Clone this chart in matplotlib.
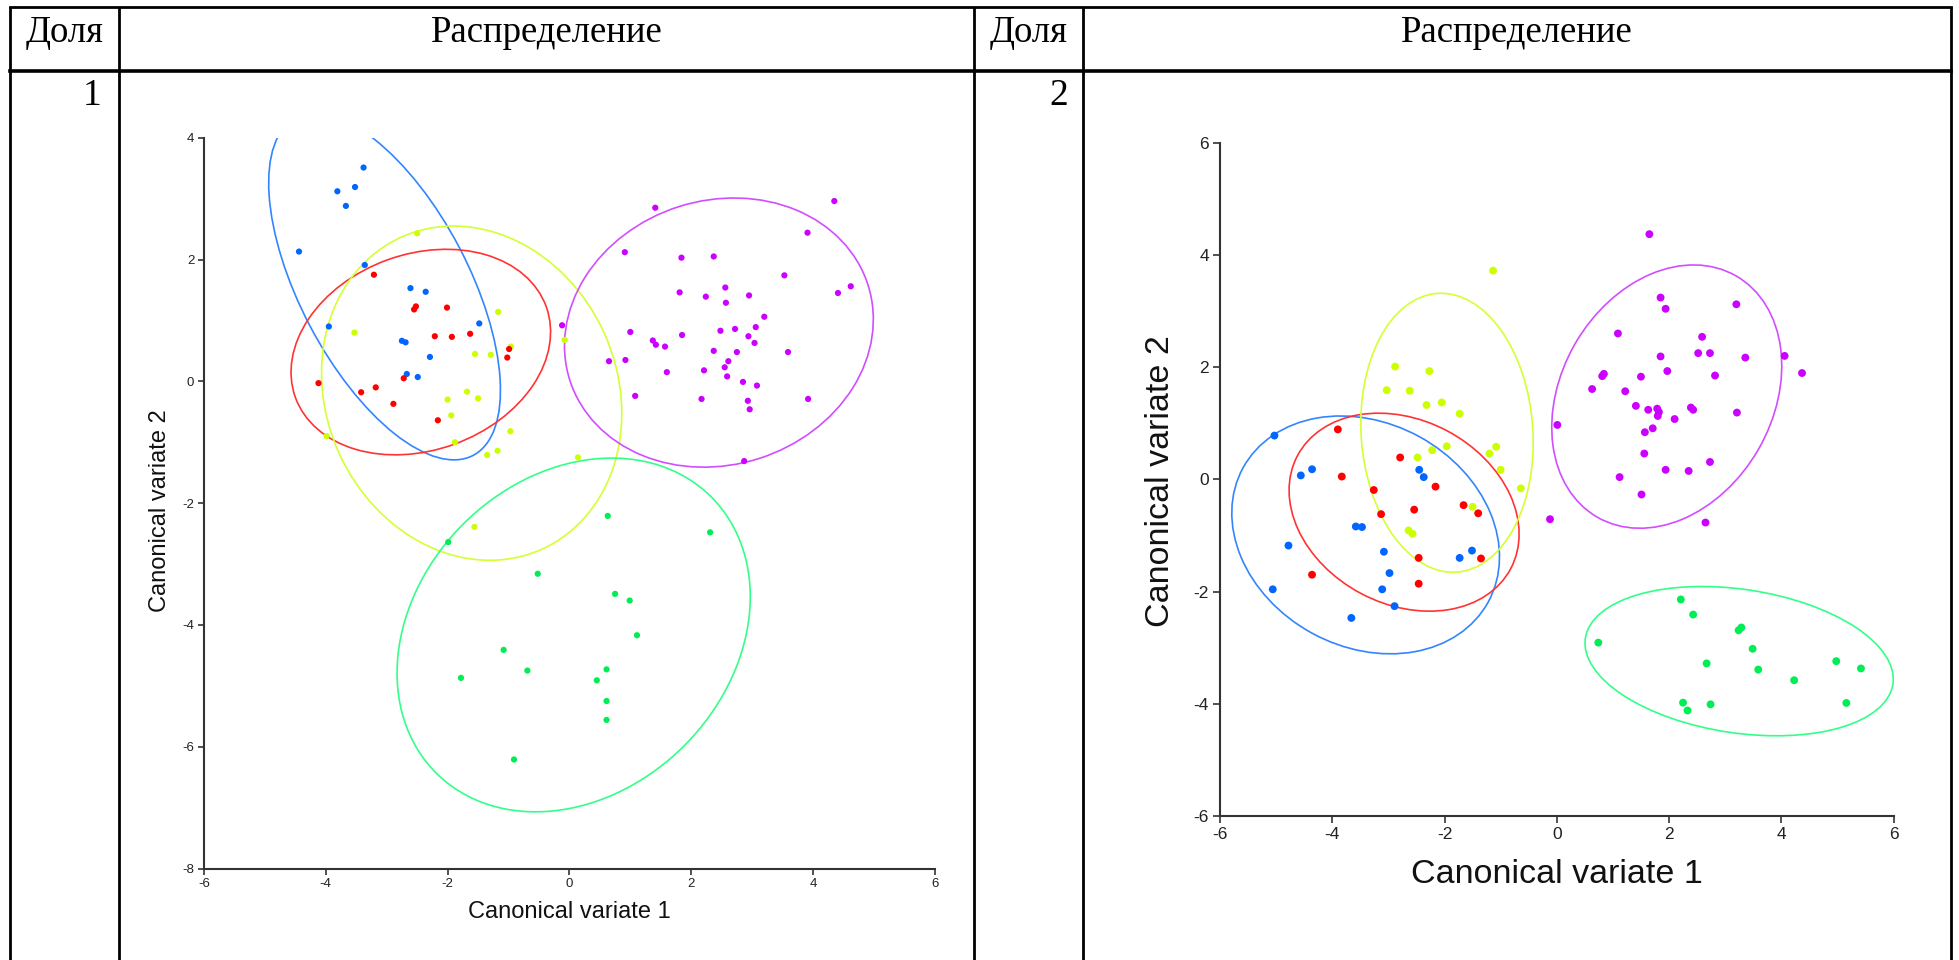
import matplotlib
matplotlib.use("Agg")
import matplotlib.pyplot as plt
from matplotlib.patches import Ellipse
from matplotlib import font_manager

plt.rcParams['axes.unicode_minus'] = False

# ---------------- data: panel 1 ----------------
blue1_x = [-3.38, -3.81, -3.52, -3.67, -4.44, -3.36, -2.61, -2.36, -3.95, -1.48, -2.75, -2.69, -2.29, -2.67, -2.49]
blue1_y = [3.51, 3.12, 3.19, 2.88, 2.13, 1.91, 1.53, 1.47, 0.90, 0.95, 0.665, 0.64, 0.40, 0.12, 0.07]
red1_x = [-3.21, -2.52, -2.55, -2.01, -2.21, -1.93, -1.63, -0.99, -1.02, -4.12, -2.72, -3.42, -3.18, -2.89, -2.16]
red1_y = [1.75, 1.23, 1.18, 1.21, 0.74, 0.73, 0.78, 0.53, 0.39, -0.03, 0.05, -0.18, -0.10, -0.37, -0.64]
yellow1_x = [-2.50, -3.53, -1.17, -0.96, -1.55, -1.29, -1.68, -2.00, -1.50, -1.94, -3.99, -0.97, -1.88, -1.35, -1.18, -0.08, 0.14, -1.56]
yellow1_y = [2.43, 0.80, 1.14, 0.57, 0.45, 0.435, -0.17, -0.30, -0.28, -0.56, -0.90, -0.82, -1.00, -1.21, -1.14, 0.68, -1.25, -2.39]
magenta1_x = [1.41, 4.35, 3.91, 0.91, 1.84, 2.37, 3.53, 4.62, 4.41, 1.81, 2.24, 2.56, 2.57, 2.95, 3.20, 3.06, 2.72, 2.48, 2.94, 3.04,
              -0.12, 1.0, 1.85, 1.37, 1.42, 1.57, 0.65, 0.92, 2.37, 2.75, 3.59, 2.61, 2.55, 1.60, 2.21, 2.59, 2.85, 3.08, 1.08, 2.17,
              2.93, 2.96, 3.92, 2.87]
magenta1_y = [2.85, 2.96, 2.44, 2.12, 2.03, 2.05, 1.74, 1.56, 1.45, 1.46, 1.39, 1.54, 1.29, 1.41, 1.06, 0.89, 0.86, 0.83, 0.74, 0.63,
              0.92, 0.81, 0.76, 0.67, 0.60, 0.57, 0.33, 0.35, 0.50, 0.48, 0.48, 0.33, 0.23, 0.15, 0.18, 0.08, -0.01, -0.07, -0.24, -0.29,
              -0.32, -0.46, -0.29, -1.31]
green1_x = [0.63, 2.31, -1.99, -0.52, 0.75, 0.99, 1.11, -1.08, -0.69, -1.78, 0.61, 0.45, 0.61, 0.61, -0.91]
green1_y = [-2.21, -2.48, -2.64, -3.16, -3.49, -3.60, -4.17, -4.41, -4.75, -4.87, -4.73, -4.91, -5.25, -5.56, -6.21]

# ellipses panel 1 (order: blue, red, yellow, magenta, green)
ell1_cx = [-3.035, -2.44, -1.605, 2.455, 0.07]
ell1_cy = [1.555, 0.48, -0.195, 0.80, -4.165]
ell1_a = [3.13, 2.19, 2.81, 2.57, 3.20]
ell1_b = [1.385, 1.61, 2.39, 2.17, 2.57]
ell1_ang = [-62.3, 19.9, -65.8, 17.7, 45.2]

# ---------------- data: panel 2 ----------------
blue2_x = [-5.03, -4.56, -4.36, -2.45, -2.37, -3.58, -3.47, -4.78, -3.08, -1.51, -1.73, -2.98, -5.06, -3.11, -2.89, -3.66]
blue2_y = [0.78, 0.07, 0.18, 0.17, 0.04, -0.84, -0.85, -1.18, -1.29, -1.27, -1.40, -1.67, -1.96, -1.96, -2.26, -2.47]
red2_x = [-3.90, -2.79, -3.83, -3.26, -2.16, -3.13, -2.54, -1.66, -1.40, -2.46, -1.35, -4.36, -2.46]
red2_y = [0.89, 0.39, 0.05, -0.19, -0.13, -0.62, -0.54, -0.46, -0.605, -1.40, -1.41, -1.70, -1.86]
yellow2_x = [-1.135, -2.88, -2.27, -3.03, -2.62, -2.32, -2.05, -1.73, -2.48, -2.22, -1.96, -1.20, -1.08, -1.00, -0.64, -1.50, -2.64, -2.57]
yellow2_y = [3.72, 2.01, 1.93, 1.59, 1.58, 1.325, 1.37, 1.17, 0.39, 0.52, 0.59, 0.46, 0.58, 0.17, -0.16, -0.49, -0.91, -0.97]
magenta2_x = [1.65, 1.85, 1.94, 3.20, 1.09, 2.59, 1.85, 2.52, 2.73, 3.36, 4.06, 4.37, 1.97, 2.82, 0.84, 0.81, 1.50, 0.63, 1.22, 1.41,
              1.63, 1.79, 1.82, 1.80, 2.39, 2.43, 3.21, 2.10, 0.01, 1.71, 1.57, 1.56, 2.73, 1.94, 2.35, 1.12, 1.51, -0.12, 2.65]
magenta2_y = [4.37, 3.24, 3.04, 3.12, 2.60, 2.54, 2.19, 2.25, 2.25, 2.17, 2.20, 1.895, 1.93, 1.85, 1.88, 1.84, 1.83, 1.61, 1.57, 1.31,
              1.24, 1.26, 1.20, 1.13, 1.28, 1.24, 1.19, 1.075, 0.97, 0.91, 0.84, 0.46, 0.31, 0.17, 0.15, 0.04, -0.27, -0.71, -0.77]
green2_x = [2.21, 2.43, 0.74, 3.29, 3.24, 3.49, 2.67, 3.59, 4.98, 5.42, 4.23, 2.25, 2.33, 2.74, 5.16]
green2_y = [-2.14, -2.41, -2.91, -2.64, -2.69, -3.02, -3.28, -3.39, -3.24, -3.37, -3.58, -3.98, -4.12, -4.01, -3.985]

ell2_cx = [-3.405, -2.72, -1.955, 1.96, 3.25]
ell2_cy = [-0.99, -0.585, 0.83, 1.475, -3.24]
ell2_a = [2.49, 2.15, 2.49, 2.48, 2.77]
ell2_b = [1.995, 1.64, 1.53, 1.885, 1.28]
ell2_ang = [-28.7, -27.9, 93.9, 60.1, -8.5]

ticks1_x = [-6, -4, -2, 0, 2, 4, 6]
ticks1_y = [-8, -6, -4, -2, 0, 2, 4]
ticks2 = [-6, -4, -2, 0, 2, 4, 6]

header_labels = ["Доля", "Распределение", "Доля", "Распределение"]
row_labels = ["1", "2"]
xlabel = "Canonical variate 1"
ylabel = "Canonical variate 2"

# ---------------- styles ----------------
dot_cols = {"blue": "#0066ff", "red": "#ff0000", "yellow": "#ccff00", "magenta": "#cc00ff", "green": "#00ee55"}
ell_cols = ["#3385ff", "#ff3333", "#d4ff33", "#d24dff", "#33ff88"]

names = {f.name for f in font_manager.fontManager.ttflist}
narrow = "Liberation Sans Narrow" if "Liberation Sans Narrow" in names else "Liberation Sans"
sans = "Liberation Sans"
serif = "Liberation Serif"

W, H = 1959, 960
fig = plt.figure(figsize=(W / 100, H / 100), dpi=100)

# table overlay
tab = fig.add_axes([0, 0, 1, 1])
tab.set_xlim(0, W)
tab.set_ylim(H, 0)
tab.axis("off")
lw_t = 2.0
for x in [10, 119, 974, 1083, 1951]:
    tab.plot([x, x], [7, H + 5], color="black", lw=lw_t, solid_capstyle="butt")
tab.plot([10, 1951], [7, 7], color="black", lw=lw_t)
tab.plot([10, 1951], [71, 71], color="black", lw=2.6)
hfs = 26.5
tab.text(64.5, 33, header_labels[0], family=serif, fontsize=hfs, ha="center", va="center")
tab.text(546.5, 33, header_labels[1], family=serif, fontsize=hfs, ha="center", va="center")
tab.text(1028.5, 33, header_labels[2], family=serif, fontsize=hfs, ha="center", va="center")
tab.text(1517, 33, header_labels[3], family=serif, fontsize=hfs, ha="center", va="center")
tab.text(101, 96, row_labels[0], family=serif, fontsize=27, ha="right", va="center")
tab.text(1068, 96, row_labels[1], family=serif, fontsize=27, ha="right", va="center")


def panel(ax, groups, ecx, ecy, ea, eb, eang, xt, yt, xlim, ylim, dot_s, tick_fs, lab_fs,
          xl_pos, yl_pos, ticklen):
    for i in range(len(ecx)):
        ax.add_patch(Ellipse((ecx[i], ecy[i]), 2 * ea[i], 2 * eb[i], angle=eang[i],
                             fill=False, edgecolor=ell_cols[i], lw=1.2, zorder=2))
    for gx, gy, c in groups:
        ax.scatter(gx, gy, s=dot_s, color=c, edgecolors="none", zorder=3)
    ax.set_xlim(*xlim)
    ax.set_ylim(*ylim)
    ax.set_xticks(xt)
    ax.set_yticks(yt)
    ax.set_xticklabels([str(v) for v in xt])
    ax.set_yticklabels([str(v) for v in yt])
    for side in ["top", "right"]:
        ax.spines[side].set_visible(False)
    for side in ["left", "bottom"]:
        ax.spines[side].set_color("#333333")
        ax.spines[side].set_linewidth(1.5)
    ax.tick_params(direction="out", length=ticklen, width=1.2, color="#333333",
                   labelsize=tick_fs, labelcolor="#222222", pad=3)
    for lab in ax.get_xticklabels() + ax.get_yticklabels():
        lab.set_family(narrow)
    ax.set_facecolor("none")
    ax.text(0.5, xl_pos, xlabel, transform=ax.transAxes, ha="center", va="center",
            family=sans, fontsize=lab_fs, color="#111111")
    ax.text(yl_pos[0], yl_pos[1], ylabel, transform=ax.transAxes, ha="center", va="center",
            rotation=90, family=sans, fontsize=lab_fs, color="#111111")


ax1 = fig.add_axes([204 / W, (H - 868.5) / H, 730.8 / W, 730.8 / H])
groups1 = [(green1_x, green1_y, dot_cols["green"]),
           (magenta1_x, magenta1_y, dot_cols["magenta"]),
           (yellow1_x, yellow1_y, dot_cols["yellow"]),
           (blue1_x, blue1_y, dot_cols["blue"]),
           (red1_x, red1_y, dot_cols["red"])]
panel(ax1, groups1, ell1_cx, ell1_cy, ell1_a, ell1_b, ell1_ang, ticks1_x, ticks1_y,
      (-6, 6), (-8, 4), 20, 9.5, 17, -0.0595, (-0.060, 0.49), 4)

ax2 = fig.add_axes([1220 / W, (H - 816) / H, 673.5 / W, 673.3 / H])
groups2 = [(green2_x, green2_y, dot_cols["green"]),
           (magenta2_x, magenta2_y, dot_cols["magenta"]),
           (yellow2_x, yellow2_y, dot_cols["yellow"]),
           (blue2_x, blue2_y, dot_cols["blue"]),
           (red2_x, red2_y, dot_cols["red"])]
panel(ax2, groups2, ell2_cx, ell2_cy, ell2_a, ell2_b, ell2_ang, ticks2, ticks2,
      (-6, 6), (-6, 6), 32, 12.5, 24.5, -0.0876, (-0.088, 0.4975), 5)

fig.savefig("out.png", dpi=100)
